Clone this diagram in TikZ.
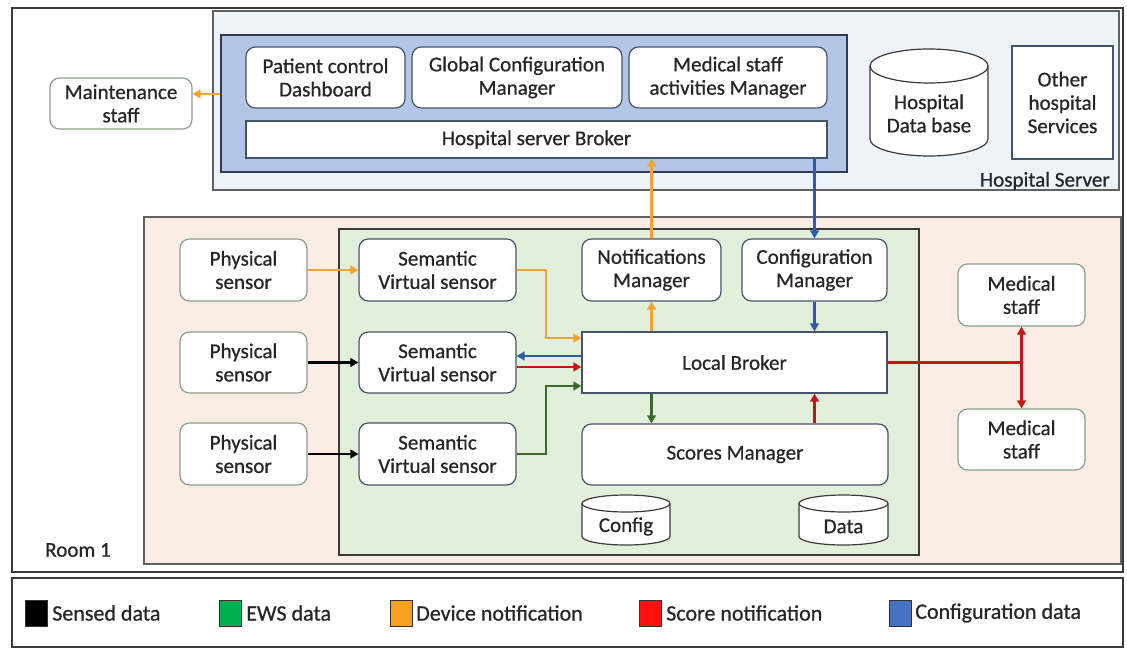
\documentclass[tikz,border=0pt]{standalone}
\usepackage{fontspec}
\setmainfont{Carlito}[FakeBold=0.7]
\usetikzlibrary{arrows.meta,calc}
\definecolor{textc}{HTML}{262626}
\definecolor{bordb}{HTML}{44546A}
\definecolor{bordg}{HTML}{8AA08A}
\definecolor{frame}{HTML}{3A3A3A}
\definecolor{hsfill}{HTML}{EEF3F9}
\definecolor{bluefill}{HTML}{B4C6E7}
\definecolor{bluebord}{HTML}{2F3B55}
\definecolor{roomfill}{HTML}{FBEDE5}
\definecolor{greenfill}{HTML}{E2EFDA}
\definecolor{corange}{HTML}{F2A332}
\definecolor{cblue}{HTML}{2E5AA8}
\definecolor{cred}{HTML}{C81414}
\definecolor{cgreen}{HTML}{3B6B2A}
\definecolor{lgreen}{HTML}{00B050}
\definecolor{lorange}{HTML}{F7A11A}
\definecolor{lred}{HTML}{FF1010}
\definecolor{lblue}{HTML}{4472C4}
\newcommand\nbx[7]{% style, name, x1, y1, x2, y2, text
  \node[#1, minimum width={(#5-#3)*0.75pt}, minimum height={(#6-#4)*0.75pt}]
    (#2) at ({(#3+#5)/2},{(#4+#6)/2}) {#7};}
\newcommand\dbc[8]{% name, x1, y1, x2, y2, ry, text shift, text
  \path[cylshape] (#2,{#3+#6}) -- (#2,{#5-#6})
    arc[start angle=180,end angle=360,x radius={(#4-#2)/2*0.75pt},y radius={#6*0.75pt}]
    -- (#4,{#3+#6})
    arc[start angle=0,end angle=180,x radius={(#4-#2)/2*0.75pt},y radius={#6*0.75pt}] -- cycle;
  \draw[cylline] (#2,{#3+#6})
    arc[start angle=180,end angle=360,x radius={(#4-#2)/2*0.75pt},y radius={#6*0.75pt}];
  \node[txt] (#1) at ({(#2+#4)/2},{(#3+#5)/2+#7}) {#8};}
\begin{document}
\begin{tikzpicture}[x=0.75pt,y=-0.75pt,
  txt/.style={font=\fontsize{15.8}{17.5}\selectfont, text=textc, align=center, inner sep=0pt},
  legtxt/.style={font=\fontsize{16.5}{19}\selectfont, text=textc, inner sep=0pt, anchor=west},
  nbox/.style={txt, draw=#1, fill=white, line width=0.9pt, inner sep=0pt},
  rb/.style={nbox=bordb, rounded corners=7pt},
  gb/.style={nbox=bordg, rounded corners=7pt},
  sq/.style={nbox=bordb},
  panel/.style={draw=#1, line width=1pt, inner sep=0pt},
  cylshape/.style={draw=frame, fill=white, line width=0.9pt},
  cylline/.style={draw=frame, line width=0.9pt},
  sw/.style={draw=black!80, line width=0.6pt, inner sep=0pt},
  arr/.style={line width=2pt, -{Triangle[length=6pt,width=6.5pt]}},
  oa/.style={arr, draw=corange, color=corange},
  ba/.style={arr, draw=cblue, color=cblue},
  ra/.style={arr, draw=cred, color=cred},
  ga/.style={arr, draw=cgreen, color=cgreen},
  ka/.style={arr, draw=black, color=black},
  rline/.style={line width=2pt, draw=cred},
  rda/.style={line width=2pt, draw=cred, color=cred, {Triangle[length=6pt,width=6.5pt]}-{Triangle[length=6pt,width=6.5pt]}}
]
\useasboundingbox (0,0) rectangle (1127,653);
\fill[white] (0,0) rectangle (1127,653);

% outer frames
\nbx{panel=frame}{outer}{12}{8}{1123}{572}{}
\nbx{panel=frame}{legend}{12}{578}{1123}{647}{}

% hospital server
\nbx{panel=frame!80, fill=hsfill}{hserver}{213}{11}{1119}{190}{}
\nbx{panel=bluebord, fill=bluefill}{hsbox}{221}{35}{847}{172}{}
\nbx{rb}{pcd}{246}{47}{405}{108}{Patient control\\Dashboard}
\nbx{rb}{gcm}{412}{47}{622}{108}{Global Configuration\\Manager}
\nbx{rb}{msam}{629}{47}{827}{108}{Medical staff\\activities Manager}
\nbx{sq}{hsb}{246}{121}{827}{158}{Hospital server Broker}
\dbc{hdb}{870}{49}{988}{156}{17}{11}{Hospital\\Data base}
\nbx{sq}{ohs}{1012}{46}{1113}{159}{Other\\hospital\\Services}
\node[txt, anchor=east] (hslbl) at (1110,181) {Hospital Server};

\nbx{gb}{maint}{50}{78}{192}{129}{Maintenance\\staff}

% room
\nbx{panel=frame!80, fill=roomfill}{room}{144}{217}{1121}{564}{}
\node[txt] (roomlbl) at (78,550) {Room 1};
\nbx{panel=frame, fill=greenfill}{gw}{339}{229}{919}{555}{}

\nbx{gb}{ps1}{180}{239}{307}{301}{Physical\\sensor}
\nbx{gb}{ps2}{180}{332}{307}{393}{Physical\\sensor}
\nbx{gb}{ps3}{180}{423}{307}{485}{Physical\\sensor}
\nbx{rb}{svs1}{359}{239}{516}{301}{Semantic\\Virtual sensor}
\nbx{rb}{svs2}{359}{332}{516}{393}{Semantic\\Virtual sensor}
\nbx{rb}{svs3}{359}{423}{516}{485}{Semantic\\Virtual sensor}
\nbx{rb}{nm}{582}{239}{721}{301}{Notifications\\Manager}
\nbx{rb}{cm}{742}{239}{887}{301}{Configuration\\Manager}
\nbx{sq}{lb}{582}{332}{887}{393}{Local Broker}
\nbx{rb}{sm}{582}{424}{888}{485}{Scores Manager}
\dbc{cfg}{582}{495}{670}{545}{8.5}{6.5}{Config}
\dbc{dat}{799}{495}{888}{545}{8.5}{6.5}{Data}
\nbx{gb}{ms1}{958}{264}{1085}{326}{Medical\\staff}
\nbx{gb}{ms2}{958}{409}{1085}{470}{Medical\\staff}

% connectors
\draw[oa] (hsbox.west |- 0,94) -- (maint.east |- 0,94);
\draw[oa] (ps1.east) -- (svs1.west);
\draw[ka] (ps2.east) -- (svs2.west);
\draw[ka] (ps3.east) -- (svs3.west);
\draw[oa] (svs1.east) -| (546,338) -- (lb.west |- 0,338);
\draw[ba] (lb.west |- 0,356) -- (svs2.east |- 0,356);
\draw[ra] (svs2.east |- 0,367) -- (lb.west |- 0,367);
\draw[ga] (svs3.east) -| (546,386) -- (lb.west |- 0,386);
\draw[oa] (lb.north -| nm.south) -- (nm.south);
\draw[oa] (nm.north) -- (nm.north |- hsb.south);
\draw[ba] (hsb.south -| cm.north) -- (cm.north);
\draw[ba] (cm.south) -- (cm.south |- lb.north);
\draw[ga] (lb.south -| nm.south) -- (nm.south |- sm.north);
\draw[ra] (sm.north -| cm.south) -- (cm.south |- lb.south);
\draw[rline] (lb.east) -- (lb.east -| ms1.south);
\draw[rda] (ms1.south) -- (ms2.north);

% legend
\nbx{sw, fill=black}{sw1}{25}{600}{47}{626}{}
\node[legtxt] (lt1) at (52,613) {Sensed data};
\nbx{sw, fill=lgreen}{sw2}{219}{600}{241}{626}{}
\node[legtxt] (lt2) at (246,613) {EWS data};
\nbx{sw, fill=lorange}{sw3}{390}{600}{412}{626}{}
\node[legtxt] (lt3) at (416,613) {Device notification};
\nbx{sw, fill=lred}{sw4}{639}{600}{661}{626}{}
\node[legtxt] (lt4) at (666,613) {Score notification};
\nbx{sw, fill=lblue}{sw5}{889}{600}{911}{626}{}
\node[legtxt] (lt5) at (915,613) {Configuration data};
\end{tikzpicture}
\end{document}
